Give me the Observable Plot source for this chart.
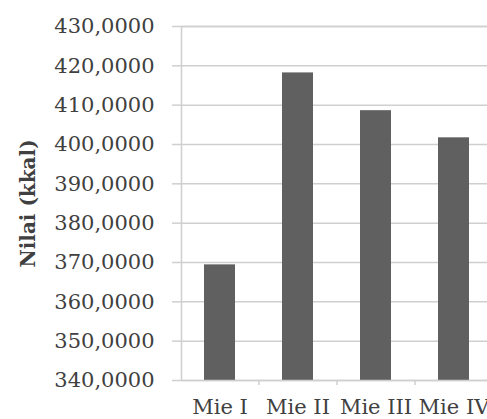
<!DOCTYPE html>
<html><head><meta charset="utf-8">
<script src="https://cdn.jsdelivr.net/npm/d3@7"></script>
<script src="https://cdn.jsdelivr.net/npm/@observablehq/plot@0.6"></script>
<style>html,body{margin:0;padding:0;background:#fff;} #chart svg{overflow:hidden}</style>
</head><body><div id="chart"></div>
<script>
const categories = ["Mie I", "Mie II", "Mie III", "Mie IV"];
const values = [369.4, 418.2, 408.6, 401.7];
const yTicks = [340, 350, 360, 370, 380, 390, 400, 410, 420, 430];
const yLabel = "Nilai (kkal)";

const data = categories.map((c, i) => ({kategori: c, nilai: values[i]}));
const fmt = d => d.toFixed(4).replace(".", ",");
const grid = "#cfcfcf";
const base = {
  width: 487, height: 419,
  marginLeft: 181, marginRight: -6, marginTop: 26, marginBottom: 39,
  style: {fontFamily: "'DejaVu Serif', serif", fontSize: "21px", color: "#404040", background: "#fff"},
  x: {domain: categories, paddingInner: 0.6, paddingOuter: 0.3},
  y: {domain: [yTicks[0], yTicks[yTicks.length - 1]]}
};
const step = Plot.plot({...base, marks: [Plot.barY(data, {x: "kategori", y: "nilai"})]}).scale("x").step;

const chart = Plot.plot({
  ...base,
  marks: [
    Plot.gridY(yTicks, {stroke: grid, strokeOpacity: 1, strokeWidth: 1.5}),
    Plot.axisY(yTicks, {tickSize: 9, tickPadding: 18, tickFormat: fmt, stroke: grid, strokeWidth: 1.5, label: null}),
    Plot.barY(data, {x: "kategori", y: "nilai", fill: "#606060", clip: true}),
    Plot.frame({stroke: grid, strokeWidth: 1.5}),
    Plot.axisX({tickSize: 0, tickPadding: 19, label: null}),
    Plot.axisX(categories.slice(1), {tickSize: 5, dx: -step / 2, tickFormat: () => "", stroke: grid, strokeWidth: 1.5, label: null}),
    Plot.text([yLabel], {frameAnchor: "left", rotate: -90, dx: -153, fontWeight: "bold", fontSize: 20, fill: "#404040", lineAnchor: "middle", textAnchor: "middle"})
  ]
});
document.getElementById("chart").appendChild(chart);
</script>
</body></html>
